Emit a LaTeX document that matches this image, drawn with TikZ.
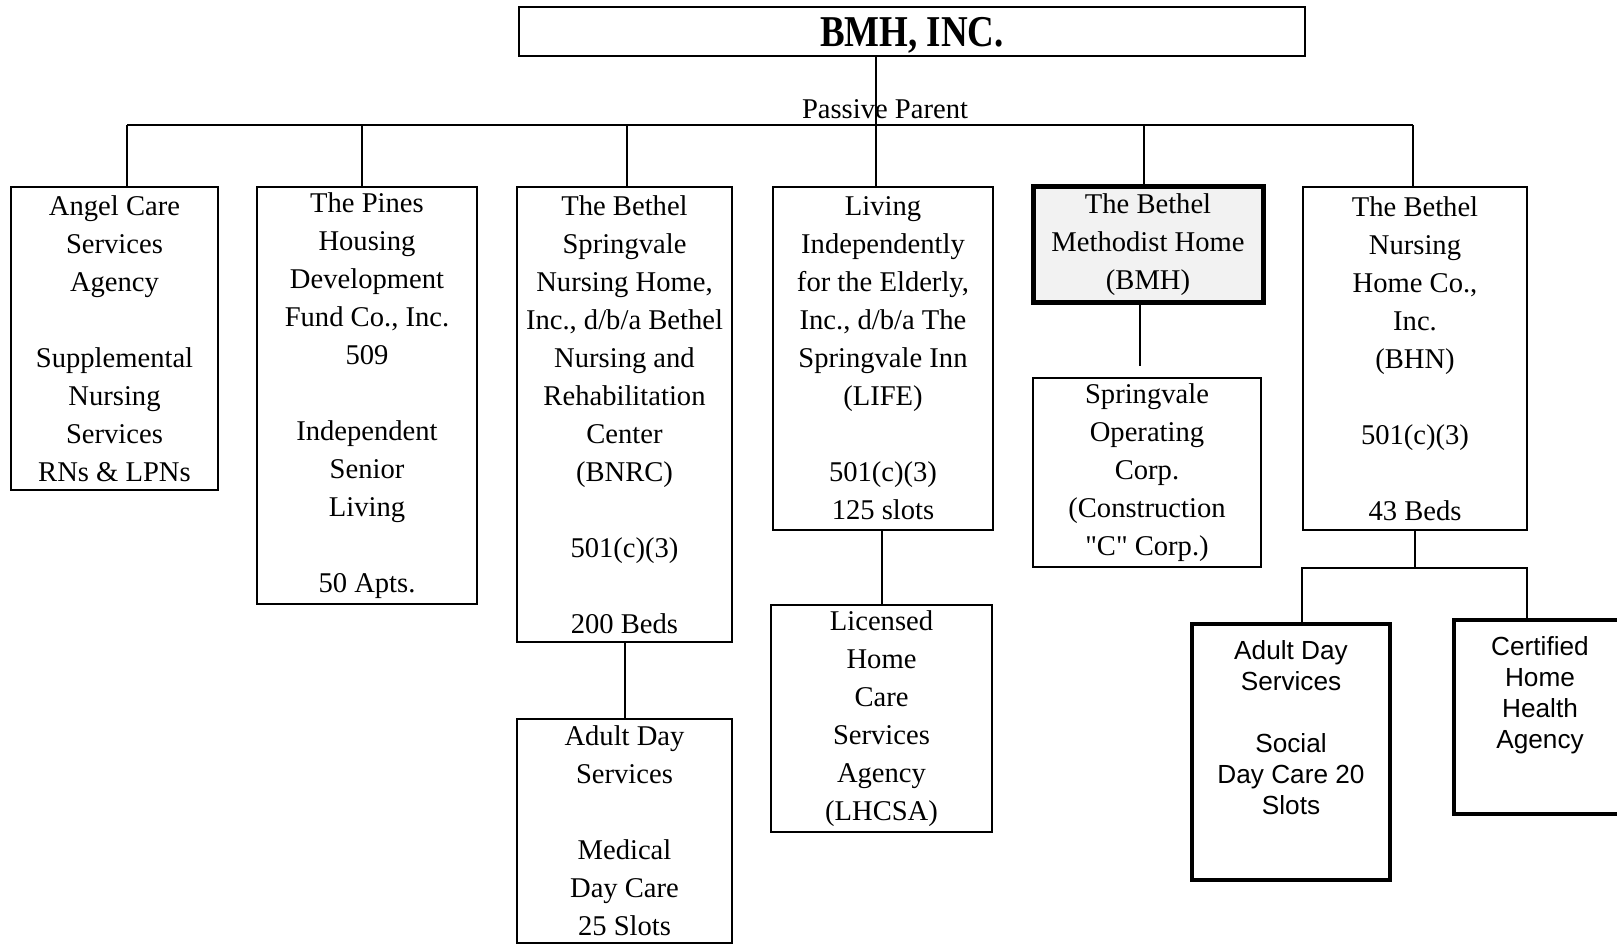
\documentclass[tikz,border=0pt]{standalone}
\usepackage{fontspec}
\setmainfont{Liberation Serif}[Ligatures=TeXOff]
\newfontfamily\titlefont{Liberation Serif}[FakeStretch=0.84]
\newfontfamily\arialfont{Liberation Sans}
\usetikzlibrary{positioning}
\tikzset{
  orgbox/.style 2 args={draw, line width=1.1pt, inner sep=0pt, align=center,
    minimum width=#1, minimum height=#2, font=\fontsize{14.3}{19}\selectfont},
  emptybox/.style 2 args={draw, inner sep=0pt, minimum width=#1, minimum height=#2},
  sanstxt/.style={align=center, inner sep=0pt, font=\arialfont\fontsize{13.1}{15.5}\selectfont},
  link/.style={line width=1pt}
}

\begin{document}
\begin{tikzpicture}[x=0.5pt, y=-0.5pt]
  \useasboundingbox (0,0) rectangle (1617,945);
  % Parent
  \node[draw, line width=1.2pt, inner sep=0pt, minimum width=393pt, minimum height=24.5pt,
    text depth=0pt, font=\titlefont\bfseries\fontsize{22}{24}\selectfont] (bmhinc) at (912,31.5) {BMH, INC.};
  % First row
  \node[orgbox={103.5pt}{151.5pt}] (angel) at (114.5,338.5)
    {Angel Care\\Services\\Agency\\[19pt]Supplemental\\Nursing\\Services\\RNs \& LPNs};
  \node[orgbox={110pt}{208.5pt}] (pines) at (367,395.5)
    {The Pines\\Housing\\Development\\Fund Co., Inc.\\509\\[19pt]Independent\\Senior\\Living\\[19pt]50 Apts.};
  \node[orgbox={107.5pt}{227.5pt}] (bnrc) at (624.5,414.5)
    {The Bethel\\Springvale\\Nursing Home,\\Inc., d/b/a Bethel\\Nursing and\\Rehabilitation\\Center\\(BNRC)\\[19pt]501(c)(3)\\[19pt]200 Beds};
  \node[orgbox={110pt}{171.5pt}] (life) at (883,358.5)
    {Living\\Independently\\for the Elderly,\\Inc., d/b/a The\\Springvale Inn\\(LIFE)\\[19pt]501(c)(3)\\125 slots};
  \node[orgbox={115pt}{58pt}, line width=2.5pt, fill=gray!10] (bmh) at (1148,245)
    {The Bethel\\Methodist Home\\(BMH)};
  \node[orgbox={112pt}{171.5pt}] (bhn) at (1415,358.5)
    {The Bethel\\Nursing\\Home Co.,\\Inc.\\(BHN)\\[19pt]501(c)(3)\\[19pt]43 Beds};
  % Second row
  \node[orgbox={107.5pt}{112pt}] (medday) at (624.5,831)
    {Adult Day\\Services\\[19pt]Medical\\Day Care\\25 Slots};
  \node[orgbox={110.5pt}{113.5pt}] (lhcsa) at (881.5,718.5)
    {Licensed\\Home\\Care\\Services\\Agency\\(LHCSA)};
  \node[orgbox={114pt}{94.5pt}] (soc) at (1147,472.5)
    {Springvale\\Operating\\Corp.\\(Construction\\"C" Corp.)};
  \node[emptybox={99pt}{128pt}, line width=2pt] (adc) at (1291,752) {};
  \node[sanstxt, below=9pt of adc.north] (adctxt)
    {Adult Day\\Services\\[15.5pt]Social\\Day Care 20\\Slots};
  \node[emptybox={86pt}{97pt}, line width=1.6pt] (chha) at (1540,717) {};
  \node[sanstxt, below=9pt of chha.north] (chhatxt)
    {Certified\\Home\\Health\\Agency};
  % Bus and drops
  \coordinate (d1) at (127,125);
  \coordinate (d2) at (362,125);
  \coordinate (d3) at (627,125);
  \coordinate (d4) at (876,125);
  \coordinate (d5) at (1144,125);
  \coordinate (d6) at (1413,125);
  \draw[link] (bmhinc.south -| d4) -- (d4);
  \draw[link] (d1) -- (d6);
  \foreach \d/\n in {d1/angel,d2/pines,d3/bnrc,d4/life,d5/bmh,d6/bhn}
    \draw[link] (\d) -- (\d |- \n.north);
  \node[font=\fontsize{14.3}{19}\selectfont, inner sep=0pt] (passive) at (885,109) {Passive Parent};
  % Lower links
  \draw[link] (bnrc.south) -- (medday.north);
  \draw[link] (life.south -| lhcsa.north) -- (lhcsa.north);
  \draw[link] (bmh.south -| 1140,0) -- ([yshift=5.5pt]soc.north -| 1140,0);
  \coordinate (s1) at (1302,568);
  \coordinate (s2) at (1527,568);
  \draw[link] (bhn.south) -- (bhn.south |- s1);
  \draw[link] (s1 |- adc.north) -- (s1) -- (s2) -- (s2 |- chha.north);
\end{tikzpicture}
\end{document}
